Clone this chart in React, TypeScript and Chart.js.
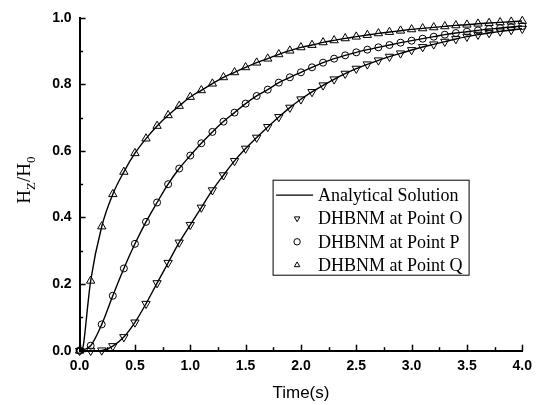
import React, { useEffect, useRef } from "react";
import { Chart, registerables } from "chart.js";

Chart.register(...registerables);

const TIME = [
  0.0, 0.1, 0.2, 0.3, 0.4, 0.5, 0.6, 0.7, 0.8, 0.9,
  1.0, 1.1, 1.2, 1.3, 1.4, 1.5, 1.6, 1.7, 1.8, 1.9,
  2.0, 2.1, 2.2, 2.3, 2.4, 2.5, 2.6, 2.7, 2.8, 2.9,
  3.0, 3.1, 3.2, 3.3, 3.4, 3.5, 3.6, 3.7, 3.8, 3.9, 4.0,
];

const POINT_O = [
  0.0, 0.0, 0.001, 0.014, 0.041, 0.085, 0.141, 0.203, 0.264, 0.325,
  0.378, 0.43, 0.482, 0.527, 0.57, 0.607, 0.64, 0.672, 0.702, 0.73,
  0.755, 0.777, 0.797, 0.815, 0.832, 0.847, 0.86, 0.872, 0.883, 0.893,
  0.903, 0.912, 0.92, 0.928, 0.936, 0.943, 0.949, 0.954, 0.959, 0.963, 0.967,
];

const POINT_P = [
  0.0, 0.015, 0.079, 0.165, 0.247, 0.321, 0.387, 0.445, 0.5, 0.547,
  0.586, 0.623, 0.657, 0.688, 0.715, 0.742, 0.765, 0.784, 0.805, 0.821,
  0.836, 0.851, 0.865, 0.877, 0.887, 0.896, 0.904, 0.911, 0.918, 0.925,
  0.931, 0.937, 0.943, 0.949, 0.954, 0.958, 0.962, 0.966, 0.969, 0.972, 0.975,
];

const POINT_Q = [
  0.0, 0.21, 0.373, 0.47, 0.537, 0.593, 0.637, 0.675, 0.707, 0.735,
  0.762, 0.782, 0.802, 0.821, 0.836, 0.851, 0.865, 0.877, 0.89, 0.901,
  0.911, 0.918, 0.926, 0.932, 0.938, 0.943, 0.948, 0.953, 0.957, 0.961,
  0.965, 0.968, 0.971, 0.974, 0.977, 0.979, 0.982, 0.984, 0.986, 0.988, 0.99,
];

// extra early samples of the analytical curve at point Q (steep start)
const ANALYTIC_Q_EARLY_T = [0.03, 0.05, 0.075];
const ANALYTIC_Q_EARLY_V = [0.01, 0.06, 0.14];

const LEGEND_LABELS = [
  "Analytical Solution",
  "DHBNM at Point O",
  "DHBNM at Point P",
  "DHBNM at Point Q",
];

const X_TITLE = "Time(s)";

function pts(xs: number[], ys: number[]) {
  return xs.map((x, i) => ({ x, y: ys[i] }));
}

function analyticQ() {
  const all = pts(TIME, POINT_Q).concat(pts(ANALYTIC_Q_EARLY_T, ANALYTIC_Q_EARLY_V));
  return all.sort((a, b) => a.x - b.x);
}

const minorTicksPlugin = {
  id: "minorTicks",
  afterDraw(chart: any) {
    const ctx = chart.ctx;
    const xs = chart.scales.x;
    const ys = chart.scales.y;
    const { left, bottom } = chart.chartArea;
    ctx.save();
    ctx.strokeStyle = "#000";
    ctx.lineWidth = 1.5;
    for (let i = 0; i <= 16; i++) {
      const v = i * 0.25;
      const px = Math.round(xs.getPixelForValue(v)) + 0.5;
      const len = i % 2 === 0 ? 6 : 3.5;
      ctx.beginPath();
      ctx.moveTo(px, bottom);
      ctx.lineTo(px, bottom - len);
      ctx.stroke();
    }
    for (let i = 0; i <= 10; i++) {
      const v = i * 0.1;
      const py = Math.round(ys.getPixelForValue(v)) + 0.5;
      const len = i % 2 === 0 ? 6 : 3.5;
      ctx.beginPath();
      ctx.moveTo(left, py);
      ctx.lineTo(left + len, py);
      ctx.stroke();
    }
    ctx.restore();
  },
};

function drawMarker(ctx: CanvasRenderingContext2D, style: string, x: number, y: number, r: number) {
  ctx.beginPath();
  if (style === "circle") {
    ctx.arc(x, y, r, 0, Math.PI * 2);
  } else {
    const dir = style === "triangleDown" ? -1 : 1;
    for (let k = 0; k < 3; k++) {
      const a = (k * 2 * Math.PI) / 3;
      const px = x + Math.sin(a) * r;
      const py = y - dir * Math.cos(a) * r;
      if (k === 0) ctx.moveTo(px, py);
      else ctx.lineTo(px, py);
    }
    ctx.closePath();
  }
  ctx.stroke();
}

const legendPlugin = {
  id: "customLegend",
  afterDraw(chart: any) {
    const ctx = chart.ctx;
    const { left, top } = chart.chartArea;
    const bx = left + 193.5;
    const by = top + 162.5;
    const bw = 196;
    const bh = 95;
    ctx.save();
    ctx.fillStyle = "#fff";
    ctx.fillRect(bx, by, bw, bh);
    ctx.strokeStyle = "#000";
    ctx.lineWidth = 1;
    ctx.strokeRect(bx, by, bw, bh);
    ctx.font = "18px 'Liberation Serif', 'Times New Roman', serif";
    ctx.textBaseline = "middle";
    ctx.fillStyle = "#000";
    const styles = ["line", "triangleDown", "circle", "triangle"];
    for (let i = 0; i < LEGEND_LABELS.length; i++) {
      const ry = by + 15 + i * 23.3;
      const st = styles[i];
      ctx.lineWidth = 1.2;
      if (st === "line") {
        ctx.beginPath();
        ctx.moveTo(bx + 3, ry);
        ctx.lineTo(bx + 40, ry);
        ctx.stroke();
      } else {
        ctx.lineWidth = 1;
        drawMarker(ctx, st, bx + 24, ry, 3.2);
      }
      ctx.fillText(LEGEND_LABELS[i], bx + 45, ry + 1);
    }
    ctx.restore();
  },
};

const yTitlePlugin = {
  id: "yTitle",
  afterDraw(chart: any) {
    const ctx = chart.ctx;
    const { top, bottom } = chart.chartArea;
    const cy = (top + bottom) / 2 - 4;
    const big = "19px 'Liberation Serif', 'Times New Roman', serif";
    const small = "13px 'Liberation Serif', 'Times New Roman', serif";
    const parts: [string, string, number][] = [
      ["H", big, 0],
      ["Z", small, 5],
      ["/H", big, 0],
      ["0", small, 5],
    ];
    ctx.save();
    let total = 0;
    for (const [t, f] of parts) {
      ctx.font = f;
      total += ctx.measureText(t).width;
    }
    ctx.translate(30, cy);
    ctx.rotate(-Math.PI / 2);
    ctx.fillStyle = "#000";
    ctx.textBaseline = "alphabetic";
    let x = -total / 2;
    for (const [t, f, dy] of parts) {
      ctx.font = f;
      ctx.fillText(t, x, dy);
      x += ctx.measureText(t).width;
    }
    ctx.restore();
  },
};

export default function App() {
  const ref = useRef<HTMLCanvasElement | null>(null);

  useEffect(() => {
    document.body.style.margin = "0";
    const canvas = ref.current;
    if (!canvas) return;

    const markerBase = {
      type: "scatter" as const,
      showLine: false,
      borderColor: "#000",
      backgroundColor: "rgba(0,0,0,0)",
      pointBorderWidth: 1,
      clip: false as any,
    };
    const lineBase = {
      type: "line" as const,
      showLine: true,
      borderColor: "#000",
      borderWidth: 1.4,
      pointRadius: 0,
      fill: false,
      cubicInterpolationMode: "monotone" as const,
    };

    const chart = new Chart(canvas, {
      type: "scatter",
      data: {
        datasets: [
          { ...lineBase, label: "Analytical O", data: pts(TIME, POINT_O) },
          { ...lineBase, label: "Analytical P", data: pts(TIME, POINT_P) },
          { ...lineBase, label: "Analytical Q", data: analyticQ() },
          { ...markerBase, label: LEGEND_LABELS[1], data: pts(TIME, POINT_O), pointStyle: "triangle", rotation: 180, pointRadius: 4.8 },
          { ...markerBase, label: LEGEND_LABELS[2], data: pts(TIME, POINT_P), pointStyle: "circle", pointRadius: 3.5 },
          { ...markerBase, label: LEGEND_LABELS[3], data: pts(TIME, POINT_Q), pointStyle: "triangle", pointRadius: 4.8 },
        ] as any,
      },
      options: {
        responsive: false,
        animation: false,
        devicePixelRatio: 1,
        layout: { padding: { top: 17.7, right: 14, bottom: 0, left: 0 } },
        plugins: {
          legend: { display: false },
          tooltip: { enabled: false },
        },
        scales: {
          x: {
            type: "linear",
            min: 0,
            max: 4,
            grid: { display: false, drawTicks: false },
            border: { display: true, color: "#000", width: 2 },
            ticks: {
              stepSize: 0.5,
              padding: 7,
              color: "#000",
              font: { family: "'Liberation Sans', Arial, sans-serif", size: 14, weight: "bold" },
              callback: (v: any) => Number(v).toFixed(1),
            },
            title: {
              display: true,
              text: X_TITLE,
              color: "#000",
              font: { family: "'Liberation Sans', Arial, sans-serif", size: 17 },
              padding: { top: 0, bottom: 1 },
            },
            afterFit: (s: any) => {
              s.height = 54.3;
            },
          },
          y: {
            type: "linear",
            min: 0,
            max: 1,
            grid: { display: false, drawTicks: false },
            border: { display: true, color: "#000", width: 2 },
            ticks: {
              stepSize: 0.2,
              padding: 8,
              color: "#000",
              font: { family: "'Liberation Sans', Arial, sans-serif", size: 14, weight: "bold" },
              callback: (v: any) => Number(v).toFixed(1),
            },
            afterFit: (s: any) => {
              s.width = 79.6;
            },
          },
        },
      } as any,
      plugins: [minorTicksPlugin, legendPlugin, yTitlePlugin],
    });

    return () => chart.destroy();
  }, []);

  return (
    <div style={{ position: "fixed", left: 0, top: 0, width: 539, height: 405, background: "#fff" }}>
      <canvas ref={ref} width={539} height={405} style={{ width: 539, height: 405, display: "block" }} />
    </div>
  );
}
